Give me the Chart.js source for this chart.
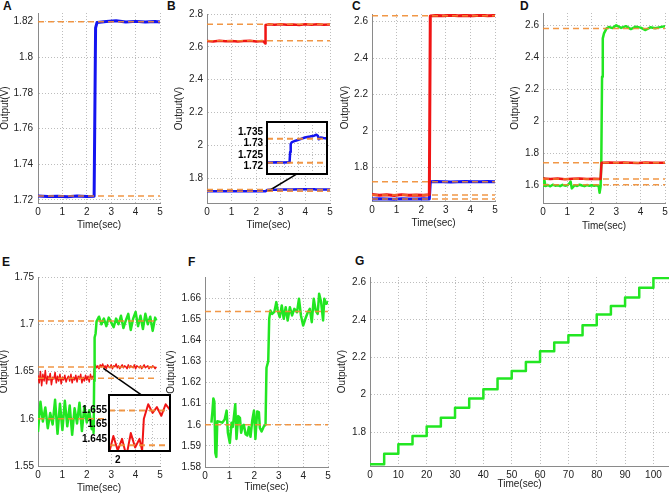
<!DOCTYPE html>
<html>
<head>
<meta charset="utf-8">
<script src="https://cdn.jsdelivr.net/npm/chart.js@4.4.1/dist/chart.umd.min.js"></script>
<style>
  html, body { margin: 0; padding: 0; background: #fff; overflow: hidden; }
  #fig { position: relative; width: 669px; height: 494px; overflow: hidden; }
  #fig canvas { position: absolute; }
  .tag { position: absolute; font: bold 12px/12px "Liberation Sans", Arial, sans-serif; color: #111; }
</style>
</head>
<body>
<div id="fig">
  <div class="tag" style="left:3px;top:0px">A</div>
  <div class="tag" style="left:167px;top:0px">B</div>
  <div class="tag" style="left:352px;top:0px">C</div>
  <div class="tag" style="left:520px;top:0px">D</div>
  <div class="tag" style="left:2px;top:256px">E</div>
  <div class="tag" style="left:188px;top:256px">F</div>
  <div class="tag" style="left:355px;top:255px">G</div>
</div>
<script>
// ---- data ----
const ticks5 = [0, 1, 2, 3, 4, 5];

// A
const timeA = [0, 0.4, 0.8, 1.2, 1.6, 2.0, 2.3, 2.36, 2.42, 2.8, 3.2, 3.6, 4.0, 4.4, 4.8, 5];
const blueA = [1.7222, 1.7219, 1.7221, 1.7218, 1.7222, 1.722, 1.7221, 1.8165, 1.8196, 1.8201, 1.8206, 1.8199, 1.8202, 1.8198, 1.8201, 1.8199];
const refA = [1.82, 1.7222];
const yTicksA = [1.72, 1.74, 1.76, 1.78, 1.8, 1.82];

// B
const timeBred = [0, 0.25, 0.5, 0.75, 1.0, 1.25, 1.5, 1.75, 2.0, 2.25, 2.32, 2.36, 2.38, 2.5, 2.75, 3.0, 3.25, 3.5, 3.75, 4.0, 4.25, 4.5, 4.75, 5];
const redB = [2.636, 2.633, 2.637, 2.634, 2.636, 2.632, 2.635, 2.637, 2.633, 2.635, 2.63, 2.621, 2.733, 2.737, 2.735, 2.738, 2.734, 2.736, 2.733, 2.737, 2.735, 2.738, 2.734, 2.736];
const timeBblue = [0, 0.5, 1, 1.5, 2, 2.3, 2.38, 2.42, 2.46, 2.55, 2.8, 3.1, 3.45, 3.8, 4.1, 4.26, 4.36, 4.42, 4.55, 4.75, 5];
const blueB = [1.7216, 1.7217, 1.7216, 1.7217, 1.7216, 1.7217, 1.7218, 1.7262, 1.7298, 1.7306, 1.7312, 1.7318, 1.7326, 1.733, 1.7334, 1.7338, 1.7334, 1.7318, 1.7326, 1.7324, 1.7322];
const refB = [2.737, 2.637, 1.7321, 1.7215];
const yTicksB = [1.8, 2, 2.2, 2.4, 2.6, 2.8];
const yTicksBinset = [1.72, 1.725, 1.73, 1.735];
const linkB = { x: [2.5, 3.64], y: [1.723, 1.826] };

// C
const timeC = [0, 0.3, 0.6, 0.9, 1.2, 1.5, 1.8, 2.1, 2.33, 2.37, 2.6, 2.9, 3.2, 3.5, 3.8, 4.1, 4.4, 4.7, 5];
const redC = [1.651, 1.646, 1.649, 1.645, 1.65, 1.647, 1.648, 1.646, 1.649, 2.631, 2.634, 2.632, 2.635, 2.633, 2.634, 2.632, 2.635, 2.633, 2.634];
const blueC = [1.626, 1.627, 1.626, 1.625, 1.627, 1.626, 1.626, 1.627, 1.626, 1.721, 1.722, 1.721, 1.72, 1.721, 1.722, 1.721, 1.721, 1.722, 1.721];
const refC = [2.633, 1.721, 1.648, 1.626];
const yTicksC = [1.8, 2, 2.2, 2.4, 2.6];

// D
const timeDred = [0, 0.3, 0.6, 0.9, 1.2, 1.5, 1.8, 2.1, 2.36, 2.4, 2.7, 3.0, 3.3, 3.6, 3.9, 4.2, 4.5, 4.8, 5];
const redD = [1.645, 1.641, 1.644, 1.64, 1.643, 1.645, 1.641, 1.643, 1.642, 1.743, 1.744, 1.742, 1.744, 1.743, 1.741, 1.744, 1.743, 1.742, 1.743];
const timeDgreen = [0, 0.03, 0.06, 0.1, 0.2, 0.3, 0.4, 0.5, 0.6, 0.7, 0.8, 0.9, 1.0, 1.1, 1.13, 1.18, 1.3, 1.4, 1.5, 1.6, 1.7, 1.8, 1.9, 2.0, 2.1, 2.2, 2.28, 2.32, 2.36, 2.39, 2.42, 2.45, 2.5, 2.6, 2.7, 2.85, 3.0, 3.2, 3.4, 3.6, 3.8, 4.0, 4.2, 4.4, 4.6, 4.8, 5.0];
const greenD = [1.645, 1.6, 1.632, 1.598, 1.604, 1.596, 1.606, 1.6, 1.603, 1.597, 1.605, 1.6, 1.602, 1.618, 1.626, 1.583, 1.603, 1.598, 1.606, 1.601, 1.597, 1.604, 1.599, 1.603, 1.6, 1.602, 1.598, 1.556, 1.594, 1.76, 2.278, 2.517, 2.548, 2.578, 2.588, 2.581, 2.598, 2.582, 2.593, 2.575, 2.59, 2.584, 2.569, 2.586, 2.58, 2.587, 2.592];
const refD = [2.579, 1.743, 1.642, 1.605];
const yTicksD = [1.6, 1.8, 2, 2.2, 2.4, 2.6];

// E
const timeEgreen = [0, 0.1, 0.2, 0.3, 0.4, 0.5, 0.6, 0.7, 0.8, 0.9, 1.0, 1.1, 1.2, 1.3, 1.4, 1.5, 1.6, 1.7, 1.8, 1.9, 2.0, 2.1, 2.2, 2.25, 2.28, 2.3, 2.32, 2.36,
  2.4, 2.5, 2.6, 2.7, 2.8, 2.9, 3.0, 3.1, 3.2, 3.3, 3.4, 3.5, 3.6, 3.7, 3.8, 3.9, 4.0, 4.1, 4.2, 4.3, 4.4, 4.5, 4.6, 4.7, 4.8, 4.85];
const greenE = [1.586, 1.618, 1.597, 1.612, 1.59, 1.606, 1.594, 1.62, 1.584, 1.616, 1.588, 1.619, 1.592, 1.614, 1.583, 1.611, 1.595, 1.617, 1.587, 1.613, 1.596, 1.609, 1.589, 1.598, 1.585, 1.64, 1.686, 1.69,
  1.703, 1.708, 1.7, 1.706, 1.698, 1.707, 1.702, 1.697, 1.706, 1.7, 1.709, 1.696, 1.704, 1.711, 1.694, 1.706, 1.713, 1.698, 1.709, 1.695, 1.711, 1.7, 1.708, 1.693, 1.707, 1.704];
const timeEred = [0, 0.05, 0.1, 0.15, 0.2, 0.25, 0.3, 0.35, 0.4, 0.45, 0.5, 0.55, 0.6, 0.65, 0.7, 0.75, 0.8, 0.85, 0.9, 0.95, 1.0, 1.05, 1.1, 1.15, 1.2, 1.25, 1.3, 1.35, 1.4, 1.45, 1.5, 1.55, 1.6, 1.65, 1.7, 1.75, 1.8, 1.85, 1.9, 1.95, 2.0, 2.05, 2.1, 2.15, 2.2, 2.25,
  2.28, 2.3, 2.35,
  2.4, 2.45, 2.5, 2.55, 2.6, 2.65, 2.7, 2.75, 2.8, 2.85, 2.9, 2.95, 3.0, 3.05, 3.1, 3.15, 3.2, 3.25, 3.3, 3.35, 3.4, 3.45, 3.5, 3.55, 3.6, 3.65, 3.7, 3.75, 3.8, 3.85, 3.9, 3.95, 4.0, 4.05, 4.1, 4.15, 4.2, 4.25, 4.3, 4.35, 4.4, 4.45, 4.5, 4.55, 4.6, 4.65, 4.7, 4.75, 4.8, 4.85];
const redE = [1.646, 1.638, 1.65, 1.635, 1.647, 1.64, 1.651, 1.637, 1.645, 1.641, 1.648, 1.636, 1.644, 1.642, 1.649, 1.638, 1.645, 1.64, 1.647, 1.637, 1.644, 1.641, 1.646, 1.639, 1.643, 1.645, 1.64, 1.647, 1.638, 1.644, 1.641, 1.646, 1.639, 1.645, 1.642, 1.647, 1.638, 1.644, 1.64, 1.646, 1.641, 1.645, 1.639, 1.647, 1.642, 1.645,
  1.641, 1.652, 1.657,
  1.654, 1.656, 1.653, 1.657, 1.655, 1.658, 1.654, 1.656, 1.653, 1.657, 1.655, 1.654, 1.657, 1.653, 1.656, 1.655, 1.658, 1.654, 1.656, 1.653, 1.655, 1.657, 1.654, 1.656, 1.655, 1.653, 1.657, 1.654, 1.656, 1.655, 1.654, 1.657, 1.653, 1.656, 1.655, 1.654, 1.656, 1.653, 1.655, 1.657, 1.654, 1.655, 1.656, 1.653, 1.655, 1.654, 1.656, 1.655, 1.653, 1.655];
const refE = [1.7035, 1.6548, 1.6428, 1.6];
const yTicksE = [1.55, 1.6, 1.65, 1.7, 1.75];
const yTicksEinset = [1.645, 1.65, 1.655];
const xTicksEinset = [2, 2.2, 2.4];
const linkE = { x: [2.68, 4.25], y: [1.6534, 1.625] };

// F
const timeF = [0.26, 0.3, 0.34, 0.38, 0.42, 0.46, 0.5, 0.58, 0.7, 0.8, 0.88, 0.93, 1.01, 1.08, 1.13, 1.23, 1.28, 1.35, 1.42, 1.47, 1.53, 1.58, 1.65, 1.72, 1.78, 1.85, 1.92, 1.99, 2.05, 2.12, 2.19, 2.23, 2.3, 2.39, 2.46, 2.5, 2.57, 2.61, 2.66, 2.73, 2.82, 2.9, 2.96, 3.04, 3.12, 3.2, 3.28, 3.36, 3.45, 3.54, 3.63, 3.74, 3.82, 3.9, 3.99, 4.08, 4.18, 4.26, 4.34, 4.42, 4.5, 4.58, 4.64, 4.72, 4.8, 4.85, 4.93, 5.03];
const greenF = [1.601, 1.606, 1.6125, 1.611, 1.5867, 1.5848, 1.6017, 1.6015, 1.601, 1.6025, 1.6067, 1.5962, 1.5914, 1.601, 1.599, 1.6097, 1.5933, 1.6041, 1.6033, 1.5962, 1.5994, 1.6, 1.5955, 1.5949, 1.599, 1.5943, 1.602, 1.6067, 1.5933, 1.6063, 1.606, 1.5985, 1.5968, 1.5992, 1.6, 1.627, 1.63, 1.6502, 1.6541, 1.6525, 1.6535, 1.6581, 1.654, 1.651, 1.6565, 1.6502, 1.6557, 1.6494, 1.6557, 1.6518, 1.6549, 1.6533, 1.6597, 1.6518, 1.647, 1.6502, 1.6533, 1.6549, 1.6486, 1.6597, 1.6541, 1.6525, 1.6621, 1.6581, 1.6494, 1.6597, 1.6573, 1.6584];
const refF = [1.6537, 1.6];
const yTicksF = [1.58, 1.59, 1.6, 1.61, 1.62, 1.63, 1.64, 1.65, 1.66];

// G
const stepTimeG = [0, 5, 10, 15, 20, 25, 30, 35, 40, 45, 50, 55, 60, 65, 70, 75, 80, 85, 90, 95, 100];
const stepLevelG = [1.627, 1.684, 1.734, 1.779, 1.83, 1.877, 1.93, 1.979, 2.029, 2.086, 2.127, 2.175, 2.232, 2.279, 2.318, 2.371, 2.429, 2.475, 2.52, 2.573, 2.625];
const xTicksG = [0, 10, 20, 30, 40, 50, 60, 70, 80, 90, 100];
const yTicksG = [1.8, 2, 2.2, 2.4, 2.6];

// ---- drawing ----
const FONT = "'Liberation Sans', Arial, sans-serif";
const BLUE = "#1414f0";
const RED = "#f01414";
const GREEN = "#22e622";
const ORANGE = "rgba(240,140,50,0.9)";
const GRID = "#bdbdbd";
const AXIS = "#8a8a8a";

function trace(xs, ys, color, width, extra) {
  const n = Math.min(xs.length, ys.length);
  const pts = [];
  for (let i = 0; i < n; i++) pts.push({ x: xs[i], y: ys[i] });
  return Object.assign({
    data: pts,
    borderColor: color,
    borderWidth: width,
    borderJoinStyle: "round",
    showLine: true,
    pointRadius: 0,
    fill: false,
  }, extra || {});
}

function refs(levels, x0, x1, width) {
  return levels.map((v) => trace([x0, x1], [v, v], ORANGE, width || 1.5, { borderDash: [6, 4] }));
}

const frame = {
  id: "frame",
  beforeDraw(chart) {
    const a = chart.chartArea;
    chart.ctx.save();
    chart.ctx.fillStyle = "#fff";
    chart.ctx.fillRect(a.left, a.top, a.right - a.left, a.bottom - a.top);
    chart.ctx.restore();
  },
  afterDraw(chart) {
    const a = chart.chartArea;
    chart.ctx.save();
    chart.ctx.lineWidth = 2;
    chart.ctx.strokeStyle = "#000";
    chart.ctx.strokeRect(a.left, a.top, a.right - a.left, a.bottom - a.top);
    chart.ctx.restore();
  },
};

function panel(box, o) {
  const padT = o.padT || 12, padR = o.padR || 8, padB = o.padB || 0;
  const w = box[2] - box[0] + o.yw + padR;
  const h = box[3] - box[1] + padT + o.xh + padB;
  const c = document.createElement("canvas");
  c.width = w;
  c.height = h;
  c.style.width = w + "px";
  c.style.height = h + "px";
  c.style.left = box[0] - o.yw + "px";
  c.style.top = box[1] - padT + "px";
  document.getElementById("fig").appendChild(c);
  const tickFont = { family: FONT, size: 10, weight: o.bold ? "bold" : "normal" };
  const titleFont = { family: FONT, size: 10 };
  new Chart(c.getContext("2d"), {
    type: "scatter",
    data: { datasets: o.datasets },
    options: {
      responsive: false,
      animation: false,
      events: [],
      layout: { padding: { top: padT, right: padR, bottom: padB, left: 0 } },
      plugins: { legend: { display: false }, tooltip: { enabled: false } },
      scales: {
        x: {
          type: "linear",
          min: o.x[0],
          max: o.x[1],
          afterBuildTicks: (s) => { s.ticks = o.xt.map((v) => ({ value: v })); },
          afterFit: (s) => { s.height = o.xh; },
          grid: { color: GRID, lineWidth: 1, drawTicks: false },
          border: { display: !o.inset, color: AXIS, width: 1, dash: [1, 2] },
          ticks: {
            display: o.xlabels !== false,
            font: tickFont,
            color: o.bold ? "#000" : "#222",
            padding: 3,
            maxRotation: 0,
            autoSkip: false,
            callback: o.xfmt || ((v) => String(v)),
          },
          title: { display: !!o.xtitle, text: o.xtitle, font: titleFont, color: "#222", padding: 0 },
        },
        y: {
          type: "linear",
          min: o.y[0],
          max: o.y[1],
          afterBuildTicks: (s) => { s.ticks = o.yt.map((v) => ({ value: v })); },
          afterFit: (s) => { s.width = o.yw; },
          grid: { color: GRID, lineWidth: 1, drawTicks: false },
          border: { display: !o.inset, color: AXIS, width: 1, dash: [1, 2] },
          ticks: {
            font: tickFont,
            color: o.bold ? "#000" : "#222",
            padding: o.ypad || 4,
            autoSkip: false,
            callback: (v) => String(v),
          },
          title: { display: !!o.ytitle, text: o.ytitle, font: titleFont, color: "#222", padding: 0 },
        },
      },
    },
    plugins: o.inset ? [frame] : [],
  });
}

const TX = "Time(sec)", TY = "Output(V)";

panel([38, 13, 160, 203], {
  yw: 39, xh: 28, x: [0, 5], y: [1.7183, 1.8249], xt: ticks5, yt: yTicksA, xtitle: TX, ytitle: TY, ypad: 5,
  datasets: [...refs(refA, 0, 5), trace(timeA, blueA, BLUE, 3)],
});

panel([207, 14, 330, 203], {
  yw: 34, xh: 28, x: [0, 5], y: [1.65, 2.8], xt: ticks5, yt: yTicksB, xtitle: TX, ytitle: TY,
  datasets: [...refs(refB, 0, 5), trace(linkB.x, linkB.y, "#000", 1.5), trace(timeBred, redB, RED, 2.5), trace(timeBblue, blueB, BLUE, 2.5)],
});

panel([372, 14, 495, 201], {
  yw: 33, xh: 28, x: [0, 5], y: [1.615, 2.642], xt: ticks5, yt: yTicksC, xtitle: TX, ytitle: TY,
  datasets: [...refs(refC, 0, 5), trace(timeC, redC, RED, 3), trace(timeC, blueC, BLUE, 3)],
});

panel([543, 13, 665, 203], {
  yw: 34, xh: 29, x: [0, 5], y: [1.492, 2.675], xt: ticks5, yt: yTicksD, xtitle: TX, ytitle: TY,
  datasets: [...refs(refD, 0, 5), trace(timeDred, redD, RED, 2.5), trace(timeDgreen, greenD, GREEN, 2.5)],
});

panel([38, 277, 160, 466], {
  yw: 40, xh: 28, x: [0, 5], y: [1.55, 1.75], xt: ticks5, yt: yTicksE, xtitle: TX, ytitle: TY,
  datasets: [...refs(refE, 0, 4.85), trace(linkE.x, linkE.y, "#000", 1.5), trace(timeEgreen, greenE, GREEN, 2.5), trace(timeEred, redE, RED, 1.5)],
});

panel([205, 277, 328, 467], {
  yw: 40, xh: 26, x: [0, 5], y: [1.58, 1.67], xt: ticks5, yt: yTicksF, xtitle: TX, ytitle: TY,
  datasets: [...refs(refF, 0, 5), trace(timeF, greenF, GREEN, 2.5)],
});

panel([370, 277, 669, 466], {
  yw: 34, xh: 24, x: [0, 105.5], y: [1.618, 2.63], xt: xTicksG, yt: yTicksG, xtitle: TX, ytitle: TY,
  datasets: [trace(stepTimeG.concat([105.5]), stepLevelG.concat([stepLevelG[stepLevelG.length - 1]]), GREEN, 2.5, { stepped: true })],
});

// insets
panel([267, 122, 327, 174], {
  yw: 32, xh: 0, padT: 10, padB: 10, padR: 4, inset: true, bold: true, xlabels: false, ypad: 4,
  x: [0.8, 5], y: [1.7166, 1.7394], xt: [2, 3, 4], yt: yTicksBinset,
  datasets: [...refs([refB[2], refB[3]], 0.8, 5, 2), trace(timeBblue, blueB, BLUE, 2.5)],
});

panel([109, 395, 170, 451], {
  yw: 30, xh: 16, padT: 10, padR: 4, inset: true, bold: true, ypad: 2,
  x: [1.9, 2.6], y: [1.6408, 1.6602], xt: xTicksEinset, yt: yTicksEinset,
  xfmt: (v) => (Number.isInteger(v) ? String(v) : ""),
  datasets: [...refs([refE[1], refE[2]], 1.9, 2.6, 2), trace(timeEred, redE, RED, 2)],
});
</script>
</body>
</html>
